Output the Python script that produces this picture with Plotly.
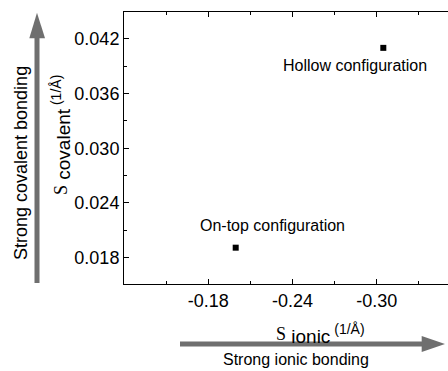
import plotly.graph_objects as go

# ---- data ----
configs = ["On-top configuration", "Hollow configuration"]
s_ionic = [-0.1995, -0.3047]
s_covalent = [0.0191, 0.0410]

x_tickvals = [-0.18, -0.24, -0.30]
x_ticktext = ["-0.18", "-0.24", "-0.30"]
y_tickvals = [0.018, 0.024, 0.030, 0.036, 0.042]
y_ticktext = ["0.018", "0.024", "0.030", "0.036", "0.042"]

W, H = 448, 371
L, R, T, B = 124, 0, 12, 87
PW, PH = W - L - R, H - T - B


def px(xp):
    return (xp - L) / PW


def py(yp):
    return (H - B - yp) / PH


GRAY = "#6f6f6f"
FONT = "Liberation Sans, Arial, sans-serif"

fig = go.Figure()
fig.add_trace(go.Scatter(
    x=s_ionic, y=s_covalent, mode="markers",
    marker=dict(symbol="square", size=6, color="black"),
    text=configs, hoverinfo="text", showlegend=False,
))

axis_common = dict(
    showline=True, linecolor="black", linewidth=1,
    ticks="inside", ticklen=5, tickcolor="black", tickwidth=1,
    showgrid=False, zeroline=False,
    tickfont=dict(family=FONT, size=18, color="black"),
)

fig.update_xaxes(
    **axis_common,
    range=[-0.1199, -0.3508], mirror="ticks",
    tickmode="array", tickvals=x_tickvals, ticktext=x_ticktext,
    minor=dict(ticks="inside", ticklen=3, tickcolor="black", dtick=0.03, tick0=-0.18),
)
fig.update_yaxes(
    **axis_common,
    range=[0.01512, 0.04493], mirror=False,
    tickmode="array", tickvals=y_tickvals, ticktext=y_ticktext,
    minor=dict(ticks="inside", ticklen=3, tickcolor="black", dtick=0.003, tick0=0.018),
)

annotations = [
    dict(text=configs[1], x=px(355), y=py(66)),
    dict(text=configs[0], x=px(272), y=py(225)),
]
anns = []
for a in annotations:
    anns.append(dict(xref="paper", yref="paper", showarrow=False,
                     xanchor="center", yanchor="middle",
                     font=dict(family=FONT, size=16, color="black"), **a))


def title_text(sub):
    return ("<span style='font-family:Liberation Serif;font-size:18px'>S</span>"
            f"<sub><span style='font-size:19px'> {sub}</span></sub>"
            "<sup><span style='font-size:14px'> (1/Å)</span></sup>")


# axis titles
anns.append(dict(
    xref="paper", yref="paper", x=px(61), y=py(135), showarrow=False,
    xanchor="center", yanchor="middle", textangle=-90,
    text=title_text("covalent"),
    font=dict(family=FONT, size=15, color="black"),
))
anns.append(dict(
    xref="paper", yref="paper", x=px(320), y=py(334), showarrow=False,
    xanchor="center", yanchor="middle",
    text=title_text("ionic"),
    font=dict(family=FONT, size=15, color="black"),
))
# arrow labels
anns.append(dict(
    xref="paper", yref="paper", x=px(21), y=py(163), showarrow=False,
    xanchor="center", yanchor="middle", textangle=-90,
    text="Strong covalent bonding",
    font=dict(family=FONT, size=18, color="black"),
))
anns.append(dict(
    xref="paper", yref="paper", x=px(296), y=py(359), showarrow=False,
    xanchor="center", yanchor="middle",
    text="Strong ionic bonding",
    font=dict(family=FONT, size=16, color="black"),
))

shapes = []
# vertical arrow
shapes.append(dict(type="rect", xref="paper", yref="paper",
                   x0=px(34.5), x1=px(39.5), y0=py(283), y1=py(37),
                   fillcolor=GRAY, line=dict(width=0)))
shapes.append(dict(type="path", xref="paper", yref="paper",
                   path=f"M {px(29.3)} {py(38.3)} L {px(37)} {py(12.7)} L {px(45)} {py(38.3)} Z",
                   fillcolor=GRAY, line=dict(width=0)))
# horizontal arrow
shapes.append(dict(type="rect", xref="paper", yref="paper",
                   x0=px(180), x1=px(423), y0=py(341.5), y1=py(346.5),
                   fillcolor=GRAY, line=dict(width=0)))
shapes.append(dict(type="path", xref="paper", yref="paper",
                   path=f"M {px(421.7)} {py(336)} L {px(445)} {py(344)} L {px(421.7)} {py(352)} Z",
                   fillcolor=GRAY, line=dict(width=0)))

fig.update_layout(
    width=W, height=H,
    margin=dict(l=L, r=R, t=T, b=B, pad=0),
    paper_bgcolor="white", plot_bgcolor="white",
    annotations=anns, shapes=shapes,
    font=dict(family=FONT, color="black"),
)

fig.write_html("out.html")
